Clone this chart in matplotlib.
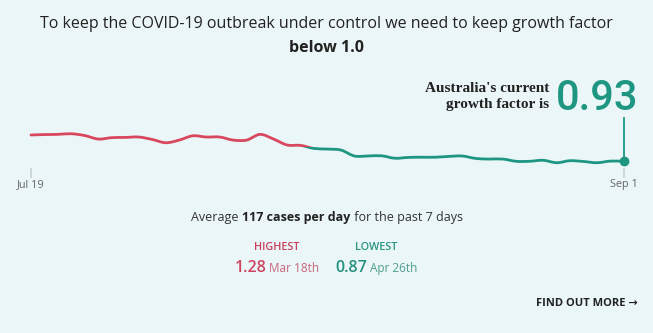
import numpy as np
import pandas as pd
import matplotlib
matplotlib.use("Agg")
import matplotlib.pyplot as plt
from matplotlib.path import Path
from matplotlib.patches import PathPatch, Rectangle

plt.rcParams['font.family'] = ['Open Sans', 'DejaVu Sans']

# daily growth factor, Jul 19 -> Sep 1
dates = pd.date_range("2020-07-19", "2020-09-01", freq="D")
growth = [1.059, 1.061, 1.062, 1.065, 1.056, 1.039, 1.046, 1.047, 1.049, 1.037,
          1.021, 1.034, 1.055, 1.049, 1.049, 1.034, 1.034, 1.062, 1.039, 1.010,
          1.008, 0.993, 0.990, 0.985, 0.956, 0.956, 0.957, 0.945, 0.949, 0.950,
          0.950, 0.954, 0.956, 0.944, 0.941, 0.941, 0.930, 0.930, 0.935, 0.923,
          0.933, 0.929, 0.923, 0.931, 0.930]
tick_labels = ["Jul 19", "Sep 1"]
threshold = 1.0
current = 0.93
avg_cases = 117
highest = (1.28, "Mar 18th")
lowest = (0.87, "Apr 26th")

RED = "#d9475f"
GREEN = "#1e9682"
BG = "#eaf6f7"
DARK = "#222222"
W, H = 653, 333

fig = plt.figure(figsize=(W / 100, H / 100), dpi=100, facecolor=BG)

# axes placed in pixel units
x0, x1, ytop, ybot = 31, 624, 120, 170
ax = fig.add_axes([x0 / W, 1 - ybot / H, (x1 - x0) / W, (ybot - ytop) / H])
ax.set_facecolor("none")
ax.set_xlim(0, len(dates) - 1)
ax.set_ylim(0.93 - 8.7 / 204, 0.93 + 41.3 / 204)
ax.axis("off")

x = np.arange(len(dates), dtype=float)
y = np.array(growth)
lo, hi = ax.get_ylim()


def smooth_path(xs, ys):
    # catmull-rom through the points, as cubic beziers
    pts = np.column_stack([xs, ys])
    p = np.vstack([pts[0], pts, pts[-1]])
    verts = [pts[0]]
    codes = [Path.MOVETO]
    for i in range(1, len(p) - 2):
        c1 = p[i] + (p[i + 1] - p[i - 1]) / 6
        c2 = p[i + 1] - (p[i + 2] - p[i]) / 6
        verts += [c1, c2, p[i + 1]]
        codes += [Path.CURVE4] * 3
    return Path(verts, codes)


path = smooth_path(x, y)
for color, (ya, yb) in [(RED, (threshold, hi + 1)), (GREEN, (lo - 1, threshold))]:
    patch = PathPatch(path, facecolor="none", edgecolor=color, lw=2,
                      capstyle="round", joinstyle="round")
    ax.add_patch(patch)
    patch.set_clip_path(Rectangle((-1, ya), len(x) + 2, yb - ya, transform=ax.transData))

# marker on latest value and leader line up to the callout
ax.plot(x[-1], y[-1], "o", color=GREEN, ms=6, clip_on=False)
ax.plot([x[-1], x[-1]], [y[-1], hi + 0.01], color=GREEN, lw=1.3, clip_on=False)

# end ticks
for xi, lab in zip([x[0], x[-1]], tick_labels):
    ax.plot([xi, xi], [lo + 0.003, lo - 0.035], color="#c8cfd0", lw=1.2, clip_on=False)
    fig.text((x0 + xi / x[-1] * (x1 - x0)) / W, 1 - 185 / H, lab, ha="center",
             va="center", fontsize=7.8, color="#666666")

fig.text(0.5, 1 - 24 / H,
         "To keep the COVID-19 outbreak under control we need to keep growth factor",
         ha="center", va="center", fontsize=11.5, color=DARK)
fig.text(0.5, 1 - 48 / H, "below 1.0", ha="center", va="center",
         fontsize=11.5, fontweight="bold", color=DARK)

fig.text(549 / W, 1 - 88 / H, "Australia's current", ha="right", va="center",
         family="Liberation Serif", fontweight="bold", fontsize=11, color=DARK)
fig.text(549 / W, 1 - 104 / H, "growth factor is", ha="right", va="center",
         family="Liberation Serif", fontweight="bold", fontsize=11, color=DARK)
fig.text(556 / W, 1 - 98 / H, f"{current:.2f}", ha="left", va="center",
         family="Roboto", fontweight="medium", fontsize=30, color=GREEN)

fig.canvas.draw()
renderer = fig.canvas.get_renderer()


def text_run(xc, ypx, parts):
    # lay out several styled pieces on one line, centered on xc
    arts = []
    for s, kw in parts:
        arts.append(fig.text(0, 1 - ypx / H, s, va="baseline", **kw))
    widths = [a.get_window_extent(renderer).width for a in arts]
    left = xc - sum(widths) / 2
    for a, w in zip(arts, widths):
        a.set_x(left / W)
        left += w


base = dict(fontsize=9, color="#333333")
text_run(327, 221, [("Average ", base),
                    (f"{avg_cases} cases per day", dict(base, fontweight="bold", color=DARK)),
                    (" for the past 7 days", base)])

fig.text(277 / W, 1 - 247 / H, "HIGHEST", ha="center", va="center",
         fontsize=7.8, fontweight="semibold", color="#c8405c")
fig.text(376 / W, 1 - 247 / H, "LOWEST", ha="center", va="center",
         fontsize=7.8, fontweight="semibold", color="#2a9580")
text_run(277, 272, [(f"{highest[0]:.2f}", dict(fontsize=11.5, fontweight="semibold", color="#cf4460")),
                    (" " + highest[1], dict(fontsize=8.5, color="#c7677a"))])
text_run(376, 272, [(f"{lowest[0]:.2f}", dict(fontsize=11.5, fontweight="semibold", color="#23917d")),
                    (" " + lowest[1], dict(fontsize=8.5, color="#4f9f8f"))])

fig.text(638 / W, 1 - 303 / H, "FIND OUT MORE \u2192", ha="right", va="center",
         fontsize=8, fontweight="bold", color=DARK)

fig.savefig("out.png", dpi=100, facecolor=BG)
